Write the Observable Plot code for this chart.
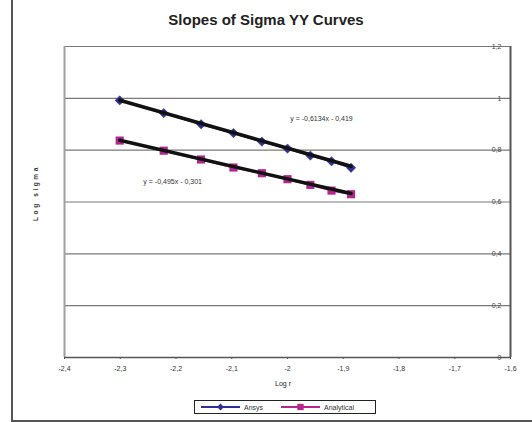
<!DOCTYPE html>
<html>
<head>
<meta charset="utf-8">
<script src="https://cdn.jsdelivr.net/npm/d3@7"></script>
<script src="https://cdn.jsdelivr.net/npm/@observablehq/plot@0.6"></script>
<style>
  html, body { margin: 0; padding: 0; background: #fff; }
  #wrap { position: relative; width: 532px; height: 422px; overflow: hidden; font-family: "Liberation Sans", Arial, sans-serif; }
  #wrap svg { position: absolute; left: 0; top: 0; }
  .abs { position: absolute; }
  #title { left: 0; width: 532px; top: 11px; text-align: center; font-weight: bold; font-size: 15px; color: #222; }
  #xlabel { left: 0; width: 566px; top: 380px; text-align: center; font-size: 7px; color: #222; }
  #ylabel { left: 35px; top: 193px; transform: translate(-50%, -50%) rotate(-90deg); font-size: 6.5px; font-weight: bold; letter-spacing: 2.6px; color: #333; white-space: nowrap; }
  #frameL { left: 11px; top: 0; width: 2px; height: 422px; background: #555; }
  #frameB { left: 11px; top: 420px; width: 521px; height: 2px; background: #555; }
  #legend { left: 194px; top: 400px; width: 182px; height: 14px; border: 1px solid #222; background: #fff; box-sizing: border-box; }
</style>
</head>
<body>
<div id="wrap">
  <div id="chart"></div>
  <div class="abs" id="title">Slopes of Sigma YY Curves</div>
  <div class="abs" id="xlabel">Log r</div>
  <div class="abs" id="ylabel">Log sigma</div>
  <div class="abs" id="frameL"></div>
  <div class="abs" id="frameB"></div>
  <div class="abs" id="legend"></div>
</div>
<script>
// Log of radius (shared x values)
const logR = [-2.301, -2.222, -2.155, -2.097, -2.046, -2.000, -1.959, -1.921, -1.886];
// Log of sigma YY for each solution
const ansys = [0.992, 0.943, 0.900, 0.866, 0.833, 0.806, 0.779, 0.757, 0.732];
const analytical = [0.837, 0.798, 0.764, 0.733, 0.711, 0.688, 0.666, 0.644, 0.630];
// Linear trend line coefficients (y = slope * x + intercept)
const seriesNames = ["Ansys", "Analytical"];
const slopes = [-0.6134, -0.495];
const intercepts = [-0.419, -0.301];
// Axis ticks
const xTicks = [-2.4, -2.3, -2.2, -2.1, -2.0, -1.9, -1.8, -1.7, -1.6];
const yTicks = [0, 0.2, 0.4, 0.6, 0.8, 1.0, 1.2];

const colors = {Ansys: "#2e3192", Analytical: "#b5278f"};
const comma = d => String(d).replace(".", ",");

const points = [];
logR.forEach((x, i) => {
  points.push({series: "Ansys", x, y: ansys[i]});
  points.push({series: "Analytical", x, y: analytical[i]});
});

const xMin = d3.min(logR), xMax = d3.max(logR);
const trend = [];
seriesNames.forEach((s, i) => {
  for (const x of [xMin, xMax]) trend.push({series: s, x, y: slopes[i] * x + intercepts[i]});
});

const eqText = i => `y = ${comma(slopes[i])}x - ${comma(-intercepts[i])}`;
// Equation labels, anchored in data space
const eqLabels = [
  {text: eqText(0), x: -1.939, y: 0.922},
  {text: eqText(1), x: -2.206, y: 0.679}
];

const chart = Plot.plot({
  width: 532,
  height: 422,
  marginLeft: 64,
  marginRight: 22,
  marginTop: 46,
  marginBottom: 65,
  x: {domain: [-2.4, -1.6]},
  y: {domain: [0, 1.2]},
  style: {fontFamily: "Liberation Sans, Arial, sans-serif", fontSize: "7px", background: "transparent", color: "#333"},
  marks: [
    Plot.ruleY(yTicks.filter(d => d > 0), {stroke: "#7a7a7a", strokeWidth: 1.2}),
    Plot.ruleX([-2.4], {stroke: "#a0a0a0", strokeWidth: 2}),
    Plot.ruleY([0], {stroke: "#555", strokeWidth: 1.5}),
    Plot.ruleX([-1.6], {stroke: "#555", strokeWidth: 2}),
    Plot.axisX({ticks: xTicks, tickFormat: comma, tickSize: 2, tickPadding: 7, stroke: "#555", fill: "#333", label: null}),
    Plot.axisY({anchor: "right", ticks: yTicks, tickFormat: comma, tickSize: 0, tickPadding: 0, textAnchor: "end", dx: -9, fill: "#444", label: null}),
    Plot.line(points, {x: "x", y: "y", z: "series", stroke: d => colors[d.series], strokeWidth: 2}),
    Plot.dot(points.filter(d => d.series === "Ansys"), {x: "x", y: "y", symbol: "diamond2", r: 4.2, fill: colors.Ansys, stroke: colors.Ansys, strokeWidth: 0.5}),
    Plot.dot(points.filter(d => d.series === "Analytical"), {x: "x", y: "y", symbol: "square", r: 4.6, fill: colors.Analytical}),
    Plot.line(trend, {x: "x", y: "y", z: "series", stroke: "#111", strokeWidth: 3.5}),
    Plot.text(eqLabels, {x: "x", y: "y", text: "text", fontSize: 7, fill: "#333"})
  ]
});
document.getElementById("chart").appendChild(chart);

// Legend: line samples with markers
const leg = d3.select("#legend").append("svg").attr("width", 180).attr("height", 12)
  .style("position", "absolute").style("left", "0px").style("top", "0px");
const legItems = [
  {name: "Ansys", x0: 6, x1: 45, text: 49, sym: d3.symbolDiamond2, size: 30},
  {name: "Analytical", x0: 86, x1: 125, text: 129, sym: d3.symbolSquare, size: 40}
];
legItems.forEach(it => {
  const c = colors[it.name];
  leg.append("line").attr("x1", it.x0).attr("x2", it.x1).attr("y1", 6).attr("y2", 6)
    .attr("stroke", c).attr("stroke-width", 2);
  leg.append("path").attr("d", d3.symbol(it.sym, it.size)())
    .attr("transform", `translate(${(it.x0 + it.x1) / 2},6)`).attr("fill", c);
  leg.append("text").attr("x", it.text).attr("y", 8.5).text(it.name)
    .attr("font-size", 7).attr("fill", "#333").attr("font-family", "Liberation Sans, Arial, sans-serif");
});
</script>
</body>
</html>
